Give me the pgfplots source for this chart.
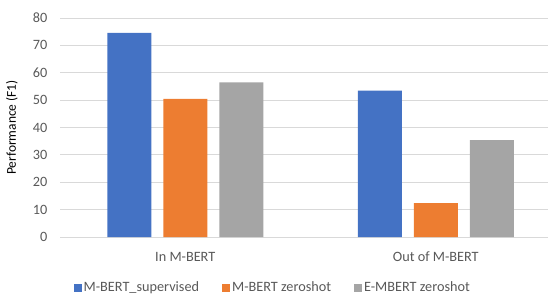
\documentclass[border=0pt]{standalone}
\usepackage{pgfplots}
\pgfplotsset{compat=1.18}
\usepackage{fontspec}
\setmainfont{Carlito}
\definecolor{cblue}{HTML}{4472C4}
\definecolor{corange}{HTML}{ED7D31}
\definecolor{cgray}{HTML}{A5A5A5}
\definecolor{cgrid}{HTML}{D9D9D9}
\definecolor{ctext}{HTML}{595959}
\begin{document}
\fontsize{13.5}{16}\selectfont
\begin{tikzpicture}
\useasboundingbox (0,0) rectangle (548bp,296bp);
\begin{axis}[
  at={(60bp,59bp)}, anchor=south west,
  scale only axis, width=488bp, height=219bp,
  ybar=12bp, bar width=44bp,
  xmin=-0.5, xmax=1.448, ymin=0, ymax=80,
  ytick={0,10,...,80},
  xtick={0,1}, xticklabels={In M-BERT, Out of M-BERT},
  axis line style={draw=none},
  ymajorgrids, grid style={cgrid, line width=0.9bp},
  major tick length=0pt,
  tick label style={ctext, font=\fontsize{14.3}{16}\selectfont},
  /pgf/number format/assume math mode=true,
  yticklabel style={xshift=-8bp},
  xticklabel style={anchor=center, yshift=-20bp},
  ylabel={Performance (F1)},
  ylabel style={ctext, font=\fontsize{14.3}{16}\selectfont},
  every axis y label/.style={at={(axis description cs:-0.0984,0.5)}, rotate=90, anchor=center},
  legend style={at={(axis description cs:0.436,-0.233)}, anchor=center, draw=none, fill=none,
    legend columns=-1, font=\fontsize{14.3}{16}\selectfont, text=ctext,
    /tikz/every even column/.append style={column sep=21bp}},
  legend cell align=left,
  legend image code/.code={\fill[#1] (0bp,-4bp) rectangle (8bp,4bp);},
  clip=false,
]
\addplot[fill=cblue, draw=none] coordinates {(0,74.6) (1,53.5)};
\addplot[fill=corange, draw=none] coordinates {(0,50.5) (1,12.4)};
\addplot[fill=cgray, draw=none] coordinates {(0,56.5) (1,35.4)};
\legend{M-BERT\_supervised, M-BERT zeroshot, E-MBERT zeroshot}
\end{axis}
\end{tikzpicture}
\end{document}
